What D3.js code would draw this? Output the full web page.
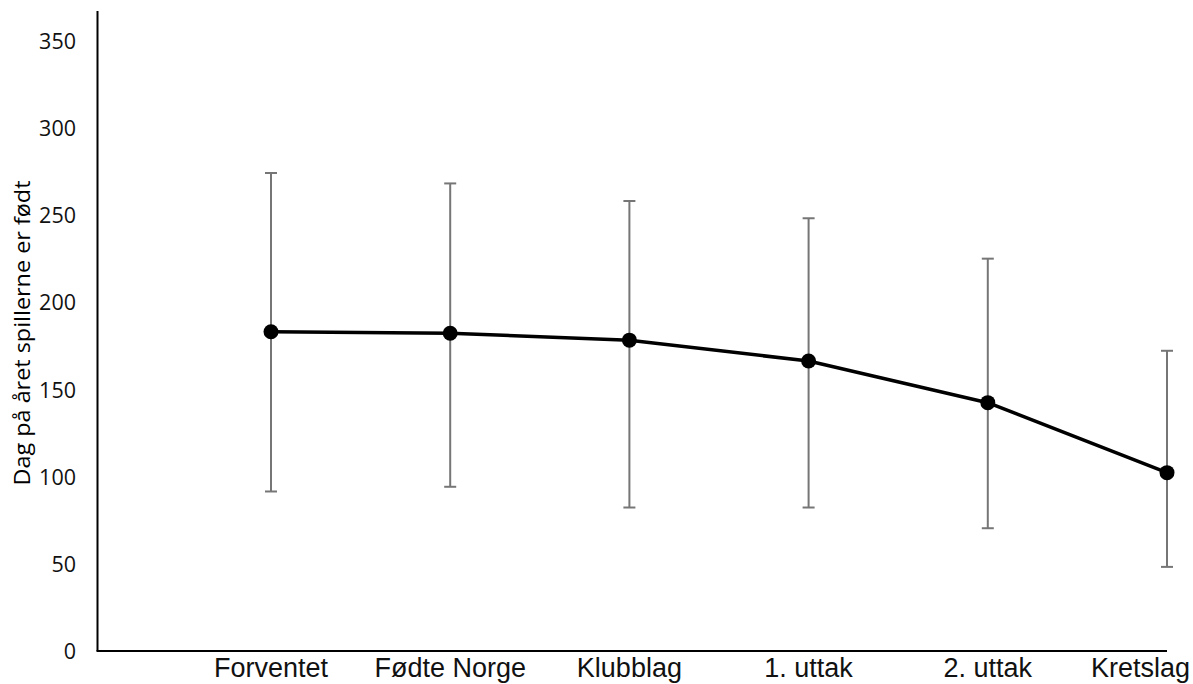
<!DOCTYPE html>
<html>
<head>
<meta charset="utf-8">
<script src="https://cdn.jsdelivr.net/npm/d3@7"></script>
<style>
  body { margin: 0; background: #fff; }
  svg { display: block; }
</style>
</head>
<body>
<div id="chart"></div>
<script>
// data
var categories = ["Forventet", "Fødte Norge", "Klubblag", "1. uttak", "2. uttak", "Kretslag"];
var means = [183.3, 182.5, 178.5, 166.5, 142.6, 102.4];
var upper = [274.5, 268.5, 258.4, 248.5, 225.3, 172.4];
var lower = [91.6, 94.3, 82.4, 82.4, 70.5, 48.3];
var yTicks = [0, 50, 100, 150, 200, 250, 300, 350];
var yTitle = "Dag på året spillerne er født";

var W = 1193, H = 684;
var axisLeft = 97.5, axisTop = 11, axisBottom = 651;

var svg = d3.select("#chart").append("svg")
  .attr("width", W)
  .attr("height", H);

var x = d3.scalePoint()
  .domain(categories)
  .range([271, 1167]);

var y = d3.scaleLinear()
  .domain([0, 350])
  .range([axisBottom, 41.5]);

var rows = categories.map(function(c, i) {
  return {cat: c, mean: means[i], hi: upper[i], lo: lower[i]};
});

// y axis (line only + labels)
svg.append("line")
  .attr("x1", axisLeft).attr("x2", axisLeft)
  .attr("y1", axisTop).attr("y2", axisBottom)
  .style("stroke", "#000")
  .style("stroke-width", 2);

svg.append("g")
  .selectAll("text")
  .data(yTicks)
  .join("text")
    .attr("x", 76)
    .attr("y", function(d) { return y(d); })
    .attr("dy", "0.36em")
    .attr("text-anchor", "end")
    .style("font-family", "'Open Sans', sans-serif")
    .style("font-size", "21.5px")
    .style("fill", "#111")
    .text(function(d) { return d; });

// x axis line
svg.append("line")
  .attr("x1", axisLeft - 1).attr("x2", x(categories[categories.length - 1]))
  .attr("y1", axisBottom).attr("y2", axisBottom)
  .style("stroke", "#000")
  .style("stroke-width", 2);

// category labels, last one pushed in so it stays on the page
var catLabels = svg.append("g")
  .selectAll("text")
  .data(categories)
  .join("text")
    .attr("y", 677)
    .attr("text-anchor", "middle")
    .style("font-family", "'Liberation Sans', Arial, sans-serif")
    .style("font-size", "27px")
    .style("fill", "#111")
    .text(function(d) { return d; });

catLabels.attr("x", function(d) {
  var w = this.getComputedTextLength();
  var cx = x(d);
  if (cx + w / 2 > W - 3) cx = W - 3 - w / 2;
  return cx;
});

// y title
svg.append("text")
  .attr("transform", "translate(30," + 333 + ") rotate(-90)")
  .attr("text-anchor", "middle")
  .attr("textLength", 305)
  .attr("lengthAdjust", "spacingAndGlyphs")
  .style("font-family", "'Open Sans', sans-serif")
  .style("font-size", "21px")
  .style("fill", "#000")
  .text(yTitle);

// error bars
var bars = svg.append("g");
var cap = 6;

bars.selectAll(".stem")
  .data(rows)
  .join("line")
    .attr("class", "stem")
    .attr("x1", function(d) { return x(d.cat); })
    .attr("x2", function(d) { return x(d.cat); })
    .attr("y1", function(d) { return y(d.hi); })
    .attr("y2", function(d) { return y(d.lo); })
    .style("stroke", "#767676")
    .style("stroke-width", 2);

bars.selectAll(".capHi")
  .data(rows)
  .join("line")
    .attr("class", "capHi")
    .attr("x1", function(d) { return x(d.cat) - cap; })
    .attr("x2", function(d) { return x(d.cat) + cap; })
    .attr("y1", function(d) { return y(d.hi); })
    .attr("y2", function(d) { return y(d.hi); })
    .style("stroke", "#767676")
    .style("stroke-width", 2);

bars.selectAll(".capLo")
  .data(rows)
  .join("line")
    .attr("class", "capLo")
    .attr("x1", function(d) { return x(d.cat) - cap; })
    .attr("x2", function(d) { return x(d.cat) + cap; })
    .attr("y1", function(d) { return y(d.lo); })
    .attr("y2", function(d) { return y(d.lo); })
    .style("stroke", "#767676")
    .style("stroke-width", 2);

// mean line
var line = d3.line()
  .x(function(d) { return x(d.cat); })
  .y(function(d) { return y(d.mean); });

svg.append("path")
  .datum(rows)
  .attr("d", line)
  .style("fill", "none")
  .style("stroke", "#000")
  .style("stroke-width", 3.5)
  .style("stroke-linejoin", "round");

svg.append("g")
  .selectAll("circle")
  .data(rows)
  .join("circle")
    .attr("cx", function(d) { return x(d.cat); })
    .attr("cy", function(d) { return y(d.mean); })
    .attr("r", 7.5)
    .style("fill", "#000");
</script>
</body>
</html>
